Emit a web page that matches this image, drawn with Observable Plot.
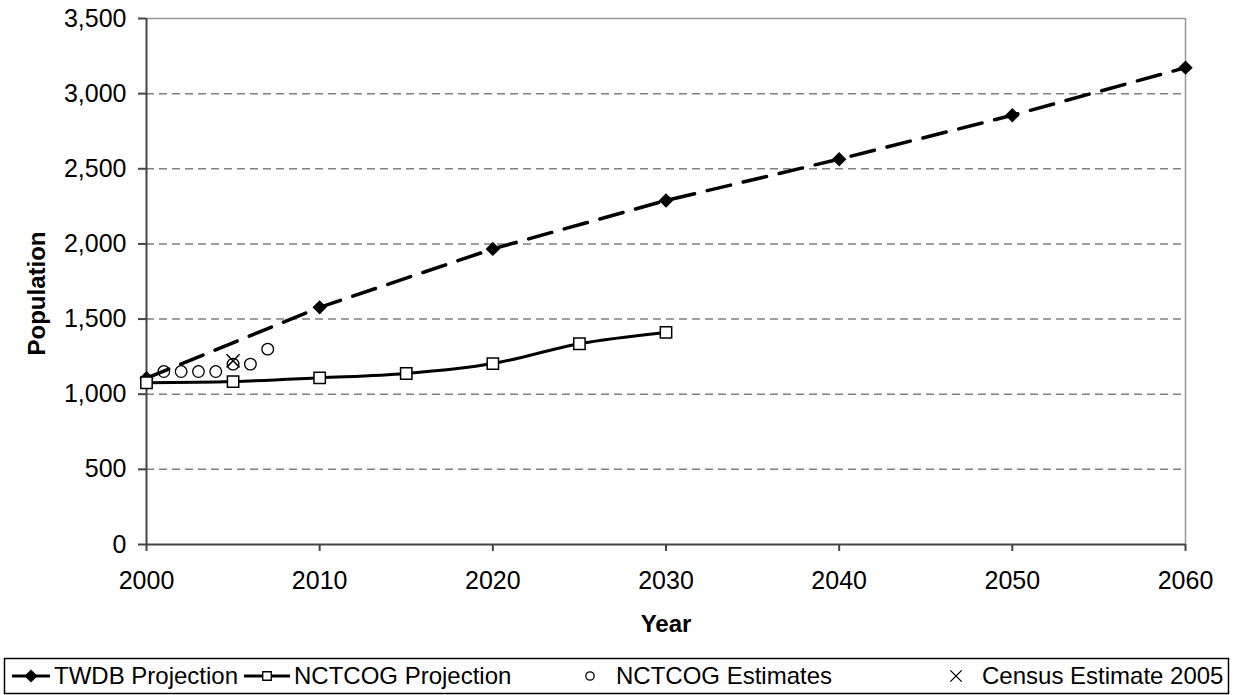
<!DOCTYPE html>
<html><head><meta charset="utf-8">
<script src="https://cdn.jsdelivr.net/npm/d3@7"></script>
<script src="https://cdn.jsdelivr.net/npm/@observablehq/plot@0.6"></script>
<style>
body{margin:0;background:#fff;font-family:"Liberation Sans",Arial,sans-serif;}
#chart{position:absolute;left:0;top:0;}
#legend{position:absolute;left:0;top:655px;}
</style></head><body>
<div id="chart"></div>
<svg id="legend" width="1234" height="40"></svg>
<script>
const twdbYears = [2000, 2010, 2020, 2030, 2040, 2050, 2060];
const twdbPop = [1107, 1578, 1967, 2289, 2564, 2856, 3173];
const nctcogYears = [2000, 2005, 2010, 2015, 2020, 2025, 2030];
const nctcogPop = [1076, 1084, 1109, 1138, 1204, 1336, 1411];
const estYears = [2001, 2002, 2003, 2004, 2005, 2006, 2007];
const estPop = [1151, 1151, 1151, 1151, 1200, 1200, 1300];
const censusYears = [2005];
const censusPop = [1222];
const xTicks = [2000, 2010, 2020, 2030, 2040, 2050, 2060];
const yTicks = [0, 500, 1000, 1500, 2000, 2500, 3000, 3500];
const seriesNames = ["TWDB Projection", "NCTCOG Projection", "NCTCOG Estimates", "Census Estimate 2005"];

const twdb = twdbYears.map((year, i) => ({year, pop: twdbPop[i]}));
const nctcog = nctcogYears.map((year, i) => ({year, pop: nctcogPop[i]}));
const est = estYears.map((year, i) => ({year, pop: estPop[i]}));
const census = censusYears.map((year, i) => ({year, pop: censusPop[i]}));

const font = "Liberation Sans, Arial, sans-serif";
const chart = Plot.plot({
  width: 1234, height: 650,
  marginLeft: 146, marginRight: 49, marginTop: 18, marginBottom: 106,
  style: {fontFamily: font, fontSize: "25px", color: "#000", background: "#fff", overflow: "visible"},
  x: {domain: [2000, 2060]},
  y: {domain: [0, 3500]},
  marks: [
    Plot.ruleY(yTicks.filter(d => d > 0 && d < 3500), {stroke: "#808080", strokeWidth: 1.5, strokeDasharray: "8,5"}),
    Plot.ruleY([3500], {stroke: "#999", strokeWidth: 1.5}),
    Plot.ruleX([2060], {stroke: "#999", strokeWidth: 1.5}),
    Plot.ruleX([2000], {stroke: "#444", strokeWidth: 2}),
    Plot.ruleY([0], {stroke: "#444", strokeWidth: 2}),
    Plot.axisY({ticks: yTicks, tickFormat: d3.format(","), tickSize: 8, tickPadding: 12, stroke: "#444", strokeWidth: 2, fill: "#000", label: null}),
    Plot.axisX({ticks: xTicks, tickFormat: d => String(d), tickSize: 7, tickPadding: 20, stroke: "#444", strokeWidth: 2, fill: "#000", label: null}),
    Plot.line(twdb, {x: "year", y: "pop", stroke: "#000", strokeWidth: 3.5, strokeDasharray: "24,13"}),
    Plot.line(nctcog, {x: "year", y: "pop", stroke: "#000", strokeWidth: 3, curve: "catmull-rom"}),
    Plot.dot(twdb, {x: "year", y: "pop", symbol: "diamond2", r: 6.5, fill: "#000", stroke: "none"}),
    Plot.dot(nctcog, {x: "year", y: "pop", symbol: "square", r: 6.4, fill: "#fff", stroke: "#000", strokeWidth: 1.5}),
    Plot.dot(est, {x: "year", y: "pop", symbol: "circle", r: 5.8, fill: "none", stroke: "#000", strokeWidth: 1.3}),
    Plot.dot(census, {x: "year", y: "pop", symbol: "times", r: 6, stroke: "#000", strokeWidth: 1.5}),
    Plot.text(["Year"], {frameAnchor: "bottom", dy: 80, fontWeight: "bold", fontSize: 24, textAnchor: "middle", lineAnchor: "middle", fill: "#000"}),
    Plot.text(["Population"], {frameAnchor: "left", rotate: -90, dx: -109, dy: 12, fontWeight: "bold", fontSize: 24, textAnchor: "middle", lineAnchor: "middle", fill: "#000"})
  ]
});
document.getElementById("chart").appendChild(chart);

// Legend
const lg = d3.select("#legend").style("font-family", font);
lg.append("rect").attr("x", 4.5).attr("y", 3.5).attr("width", 1224).attr("height", 35)
  .attr("fill", "#fff").attr("stroke", "#000").attr("stroke-width", 1.5);
const cy = 21;
const items = [
  {name: seriesNames[0], lx1: 12, lx2: 50, sym: d3.symbolDiamond2, size: 110, fill: "#000", stroke: "none", sx: 31, tx: 54},
  {name: seriesNames[1], lx1: 244, lx2: 290, sym: d3.symbolSquare, size: 72, fill: "#fff", stroke: "#000", sx: 267, tx: 294},
  {name: seriesNames[2], sym: d3.symbolCircle, size: 55, fill: "none", stroke: "#000", sx: 590, tx: 616},
  {name: seriesNames[3], sym: d3.symbolTimes, size: 85, fill: "none", stroke: "#000", sx: 956, tx: 982}
];
for (const it of items) {
  if (it.lx1 != null) {
    lg.append("line").attr("x1", it.lx1).attr("x2", it.lx2).attr("y1", cy).attr("y2", cy)
      .attr("stroke", "#000").attr("stroke-width", 3);
  }
  lg.append("path").attr("d", d3.symbol(it.sym, it.size)()).attr("transform", `translate(${it.sx},${cy})`)
    .attr("fill", it.fill).attr("stroke", it.stroke).attr("stroke-width", 1.3);
  lg.append("text").attr("x", it.tx).attr("y", cy).attr("dy", "0.35em").attr("font-size", 24)
    .attr("fill", "#000").text(it.name);
}
</script>
</body></html>
